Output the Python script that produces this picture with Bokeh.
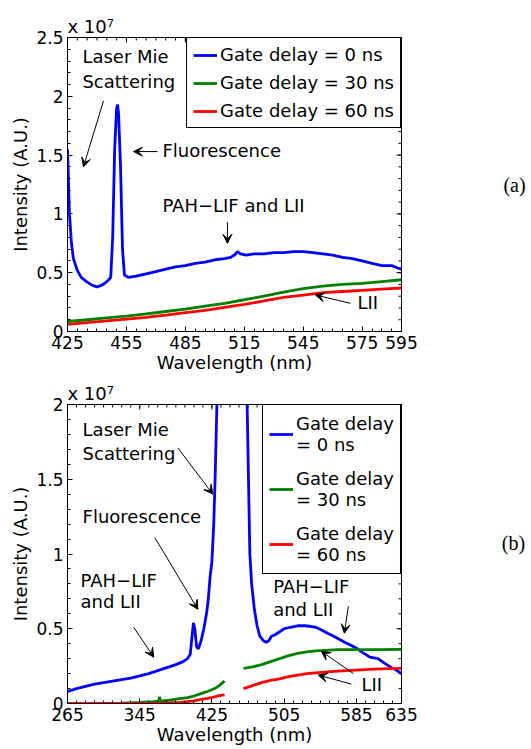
import math
from bokeh.plotting import figure
from bokeh.models import (Range1d, FixedTicker, Label, Arrow, VeeHead, Legend, LegendItem, Title)
from bokeh.layouts import row, column
from bokeh.embed import file_html
from bokeh.resources import INLINE

nan = float("nan")

# ---------------- Panel (a) data (intensity in units of 1e7) ----------------
a_wl_blue = [425, 426, 427, 428, 430, 432, 435, 438, 440, 442, 444, 446, 447, 448, 449, 450,
             450.5, 451, 452, 453, 454, 456, 460, 465, 470, 475, 480, 485, 490, 495, 500, 505,
             508, 510, 511.5, 513, 516, 520, 525, 530, 535, 540, 545, 550, 555, 560, 565, 570,
             575, 580, 585, 590, 593, 595]
a_int_blue = [1.55, 1.00, 0.75, 0.62, 0.52, 0.46, 0.42, 0.39, 0.38, 0.39, 0.41, 0.44, 0.46, 0.80,
              1.55, 1.90, 1.93, 1.85, 1.40, 0.70, 0.48, 0.46, 0.47, 0.49, 0.51, 0.53, 0.55, 0.56,
              0.58, 0.59, 0.61, 0.62, 0.63, 0.65, 0.68, 0.66, 0.65, 0.66, 0.66, 0.67, 0.67, 0.68,
              0.68, 0.67, 0.66, 0.65, 0.63, 0.62, 0.60, 0.58, 0.56, 0.56, 0.54, 0.53]
a_wl_green = [425, 435, 445, 455, 465, 475, 485, 495, 505, 515, 525, 535, 545, 555, 565, 575, 585, 595]
a_int_green = [0.085, 0.10, 0.115, 0.13, 0.15, 0.17, 0.19, 0.215, 0.24, 0.27, 0.30, 0.335, 0.365,
               0.385, 0.40, 0.41, 0.425, 0.44]
a_wl_red = [425, 435, 445, 455, 465, 475, 485, 495, 505, 515, 525, 535, 545, 555, 565, 575, 585, 595]
a_int_red = [0.06, 0.075, 0.09, 0.105, 0.12, 0.14, 0.16, 0.18, 0.205, 0.23, 0.26, 0.29, 0.31, 0.33,
             0.34, 0.35, 0.36, 0.37]
a_xticks = [425, 455, 485, 515, 545, 575, 595]
a_yticks = [0, 0.5, 1, 1.5, 2, 2.5]
a_ytick_labels = ["0", "0.5", "1", "1.5", "2", "2.5"]

# ---------------- Panel (b) data (intensity in units of 1e7) ----------------
b_wl_blue = [265, 275, 285, 295, 305, 315, 325, 335, 345, 355, 365, 375, 385, 393, 398, 401, 403,
             404.5, 406, 408, 410, 413, 416, 419, 421, 423, 425, 427, 428.5, 430.5, 433, 440, 455,
             462, 464, 465.5, 467, 469, 472, 475, 478, 482, 485, 488, 491, 495, 500, 505, 512, 520,
             528, 535, 540, 547, 553, 560, 566, 572, 579, 585, 592, 600, 609, 616, 624, 630, 635]
b_int_blue = [0.08, 0.10, 0.115, 0.13, 0.14, 0.15, 0.16, 0.17, 0.185, 0.20, 0.22, 0.24, 0.26, 0.28,
              0.30, 0.33, 0.45, 0.54, 0.50, 0.38, 0.365, 0.42, 0.50, 0.60, 0.70, 0.85, 0.95, 1.20,
              1.50, 2.00, 3.00, 5.00, 5.00, 3.00, 2.00, 1.50, 1.00, 0.80, 0.63, 0.52, 0.45, 0.42,
              0.41, 0.42, 0.45, 0.46, 0.48, 0.50, 0.51, 0.52, 0.52, 0.515, 0.51, 0.49, 0.47, 0.45,
              0.43, 0.41, 0.39, 0.37, 0.34, 0.31, 0.30, 0.27, 0.24, 0.22, 0.20]
b_wl_green = [265, 285, 305, 325, 345, 360, 366, 367, 368, 375, 385, 398, 405, 413, 420, 428, 433,
              436, 439, 450, 460, 470, 480, 490, 500, 510, 520, 530, 540, 550, 565, 585, 610, 635]
b_int_green = [0.0, 0.0, 0.0, 0.003, 0.008, 0.012, 0.015, 0.045, 0.015, 0.02, 0.03, 0.04, 0.05,
               0.066, 0.08, 0.10, 0.12, 0.135, 0.15, nan, 0.235, 0.245, 0.26, 0.28, 0.30, 0.32,
               0.335, 0.345, 0.352, 0.356, 0.36, 0.36, 0.36, 0.362]
b_wl_red = [265, 300, 340, 370, 390, 405, 413, 420, 428, 433, 439, 450, 460, 470, 480, 490, 500,
            510, 520, 530, 540, 550, 560, 575, 590, 605, 620, 635]
b_int_red = [0.0, 0.0, 0.0, 0.002, 0.008, 0.018, 0.027, 0.035, 0.045, 0.052, 0.058, nan, 0.10,
             0.12, 0.14, 0.155, 0.165, 0.18, 0.19, 0.20, 0.205, 0.21, 0.215, 0.22, 0.225, 0.23,
             0.233, 0.235]
b_xticks = [265, 345, 425, 505, 585, 635]
b_yticks = [0, 0.5, 1, 1.5, 2]
b_ytick_labels = ["0", "0.5", "1", "1.5", "2"]

legend_labels_a = ["Gate delay = 0 ns", "Gate delay = 30 ns", "Gate delay = 60 ns"]
legend_labels_b = ["Gate delay\n= 0 ns", "Gate delay\n= 30 ns", "Gate delay\n= 60 ns"]
exponent_text = "x 10\u2077"

BLUE, GREEN, RED = "#0000FF", "#008000", "#FF0000"
FONT = "DejaVu Sans"
TICK_FS = "17px"
TEXT_FS = "18px"
PLOT_W = 425
SIDE_W = 106
LW = 2.8


def make_fig(xr, yr, xticks, xminor, yticks, yminor, ylabels, h, top):
    p = figure(x_range=Range1d(*xr), y_range=Range1d(*yr), output_backend="svg",
               toolbar_location=None, width=PLOT_W, height=h, title=None,
               min_border_left=67, min_border_right=24, min_border_top=top,
               min_border_bottom=44)
    p.grid.visible = False
    p.outline_line_color = "black"
    p.outline_line_width = 1
    p.background_fill_color = "white"
    p.border_fill_color = "white"
    p.xaxis.ticker = FixedTicker(ticks=xticks, minor_ticks=xminor)
    p.yaxis.ticker = FixedTicker(ticks=yticks, minor_ticks=yminor)
    p.yaxis.major_label_overrides = {t: l for t, l in zip(yticks, ylabels)}
    p.xaxis.axis_label = "Wavelength (nm)"
    p.yaxis.axis_label = "Intensity (A.U.)"
    for ax in [p.xaxis[0], p.yaxis[0]]:
        ax.major_tick_in = 5
        ax.major_tick_out = 0
        ax.minor_tick_in = 3
        ax.minor_tick_out = 0
        ax.axis_line_color = "black"
        ax.major_tick_line_color = "black"
        ax.minor_tick_line_color = "black"
        ax.major_label_text_font = FONT
        ax.major_label_text_font_size = TICK_FS
        ax.major_label_text_color = "black"
        ax.axis_label_text_font = FONT
        ax.axis_label_text_font_size = TEXT_FS
        ax.axis_label_text_font_style = "normal"
        ax.axis_label_text_color = "black"
    p.xaxis.major_label_standoff = 4
    p.xaxis.axis_label_standoff = 0
    p.yaxis.major_label_standoff = 4
    p.yaxis.axis_label_standoff = 2
    # mirrored inward ticks on the top and right edges (half of each dash is clipped by the frame)
    p.scatter(xticks, [yr[1]] * len(xticks), marker="dash", angle=math.pi / 2, size=10,
              line_color="black", line_width=1)
    p.scatter(xminor, [yr[1]] * len(xminor), marker="dash", angle=math.pi / 2, size=6,
              line_color="black", line_width=1)
    p.scatter([xr[1]] * len(yticks), yticks, marker="dash", size=10, line_color="black",
              line_width=1)
    p.scatter([xr[1]] * len(yminor), yminor, marker="dash", size=6, line_color="black",
              line_width=1)
    # exponent note above the top-left corner
    p.add_layout(Title(text=exponent_text, align="left", text_font=FONT, text_font_size=TEXT_FS,
                       text_font_style="normal", text_color="black", standoff=2, offset=0),
                 "above")
    return p


def blank_fig(w, h):
    p = figure(x_range=Range1d(0, w), y_range=Range1d(0, h), width=w, height=h,
               output_backend="svg", toolbar_location=None, title=None,
               x_axis_location=None, y_axis_location=None,
               min_border_left=0, min_border_right=0, min_border_top=0, min_border_bottom=0)
    p.grid.visible = False
    p.outline_line_color = None
    p.background_fill_color = "white"
    p.border_fill_color = "white"
    return p


def txt(p, x, y, s, size=TEXT_FS, font=FONT, baseline="middle", align="left"):
    p.add_layout(Label(x=x, y=y, text=s, text_font=font, text_font_size=size,
                       text_baseline=baseline, text_align=align, text_color="black"))


def arrow(p, x0, y0, x1, y1):
    p.add_layout(Arrow(x_start=x0, y_start=y0, x_end=x1, y_end=y1, line_width=1,
                       line_color="black",
                       end=VeeHead(size=9, fill_color="black", line_color="black", line_width=1)))


def legend(p, labels, renderers, label_h, spacing):
    leg = Legend(items=[LegendItem(label=l, renderers=[r]) for l, r in zip(labels, renderers)],
                 location="top_right", border_line_color="black", border_line_width=1,
                 border_line_alpha=1, label_text_font=FONT, label_text_font_size=TEXT_FS,
                 label_text_color="black", glyph_width=24, glyph_height=20,
                 label_height=label_h, spacing=spacing, padding=6, margin=0, label_standoff=3,
                 background_fill_alpha=1)
    p.add_layout(leg)


# ---------------- Panel (a) ----------------
pa = make_fig((425, 595), (0, 2.5), a_xticks, list(range(425, 596, 5)), a_yticks,
              [i / 10 for i in range(0, 26)], a_ytick_labels, 375, 37)
ra_b = pa.line(a_wl_blue, a_int_blue, line_color=BLUE, line_width=LW)
ra_g = pa.line(a_wl_green, a_int_green, line_color=GREEN, line_width=LW)
ra_r = pa.line(a_wl_red, a_int_red, line_color=RED, line_width=LW)
legend(pa, legend_labels_a, [ra_b, ra_g, ra_r], 20, 7)

txt(pa, 432.6, 2.34, "Laser Mie")
txt(pa, 432.6, 2.13, "Scattering")
arrow(pa, 443.3, 1.96, 433.1, 1.40)
txt(pa, 473.3, 1.54, "Fluorescence")
arrow(pa, 470.8, 1.53, 458.6, 1.53)
txt(pa, 473.3, 1.07, "PAH\u2212LIF and LII")
arrow(pa, 506.4, 0.93, 506.4, 0.75)
txt(pa, 572.6, 0.25, "LII")
arrow(pa, 569.0, 0.24, 551.2, 0.31)

side_a = blank_fig(SIDE_W, 375)
txt(side_a, 89, 187, "(a)", size="20px", font="Liberation Serif", align="center")

# ---------------- Panel (b) ----------------
pb = make_fig((265, 635), (0, 2), b_xticks, list(range(265, 636, 10)), b_yticks,
              [i / 10 for i in range(0, 21)], b_ytick_labels, 372, 29)
rb_b = pb.line(b_wl_blue, b_int_blue, line_color=BLUE, line_width=LW)
rb_g = pb.line(b_wl_green, b_int_green, line_color=GREEN, line_width=LW)
rb_r = pb.line(b_wl_red, b_int_red, line_color=RED, line_width=LW)
legend(pb, legend_labels_b, [rb_b, rb_g, rb_r], 46, 9)

txt(pb, 281.7, 1.83, "Laser Mie")
txt(pb, 281.7, 1.67, "Scattering")
arrow(pb, 387.2, 1.71, 426.1, 1.40)
txt(pb, 281.7, 1.25, "Fluorescence")
arrow(pb, 361.7, 1.11, 409.4, 0.63)
txt(pb, 279.4, 0.82, "PAH\u2212LIF")
txt(pb, 279.4, 0.68, "and LII")
arrow(pb, 338.3, 0.51, 360.6, 0.31)
txt(pb, 492.8, 0.78, "PAH\u2212LIF")
txt(pb, 492.8, 0.63, "and LII")
arrow(pb, 576.1, 0.65, 571.7, 0.47)
txt(pb, 590.6, 0.13, "LII")
arrow(pb, 581.7, 0.20, 546.1, 0.35)
arrow(pb, 579.4, 0.13, 542.8, 0.19)

side_b = blank_fig(SIDE_W, 372)
txt(side_b, 88, 200, "(b)", size="20px", font="Liberation Serif", align="center")

layout = column(row(pa, side_a), row(pb, side_b))
open("out.html", "w").write(file_html(layout, INLINE))
